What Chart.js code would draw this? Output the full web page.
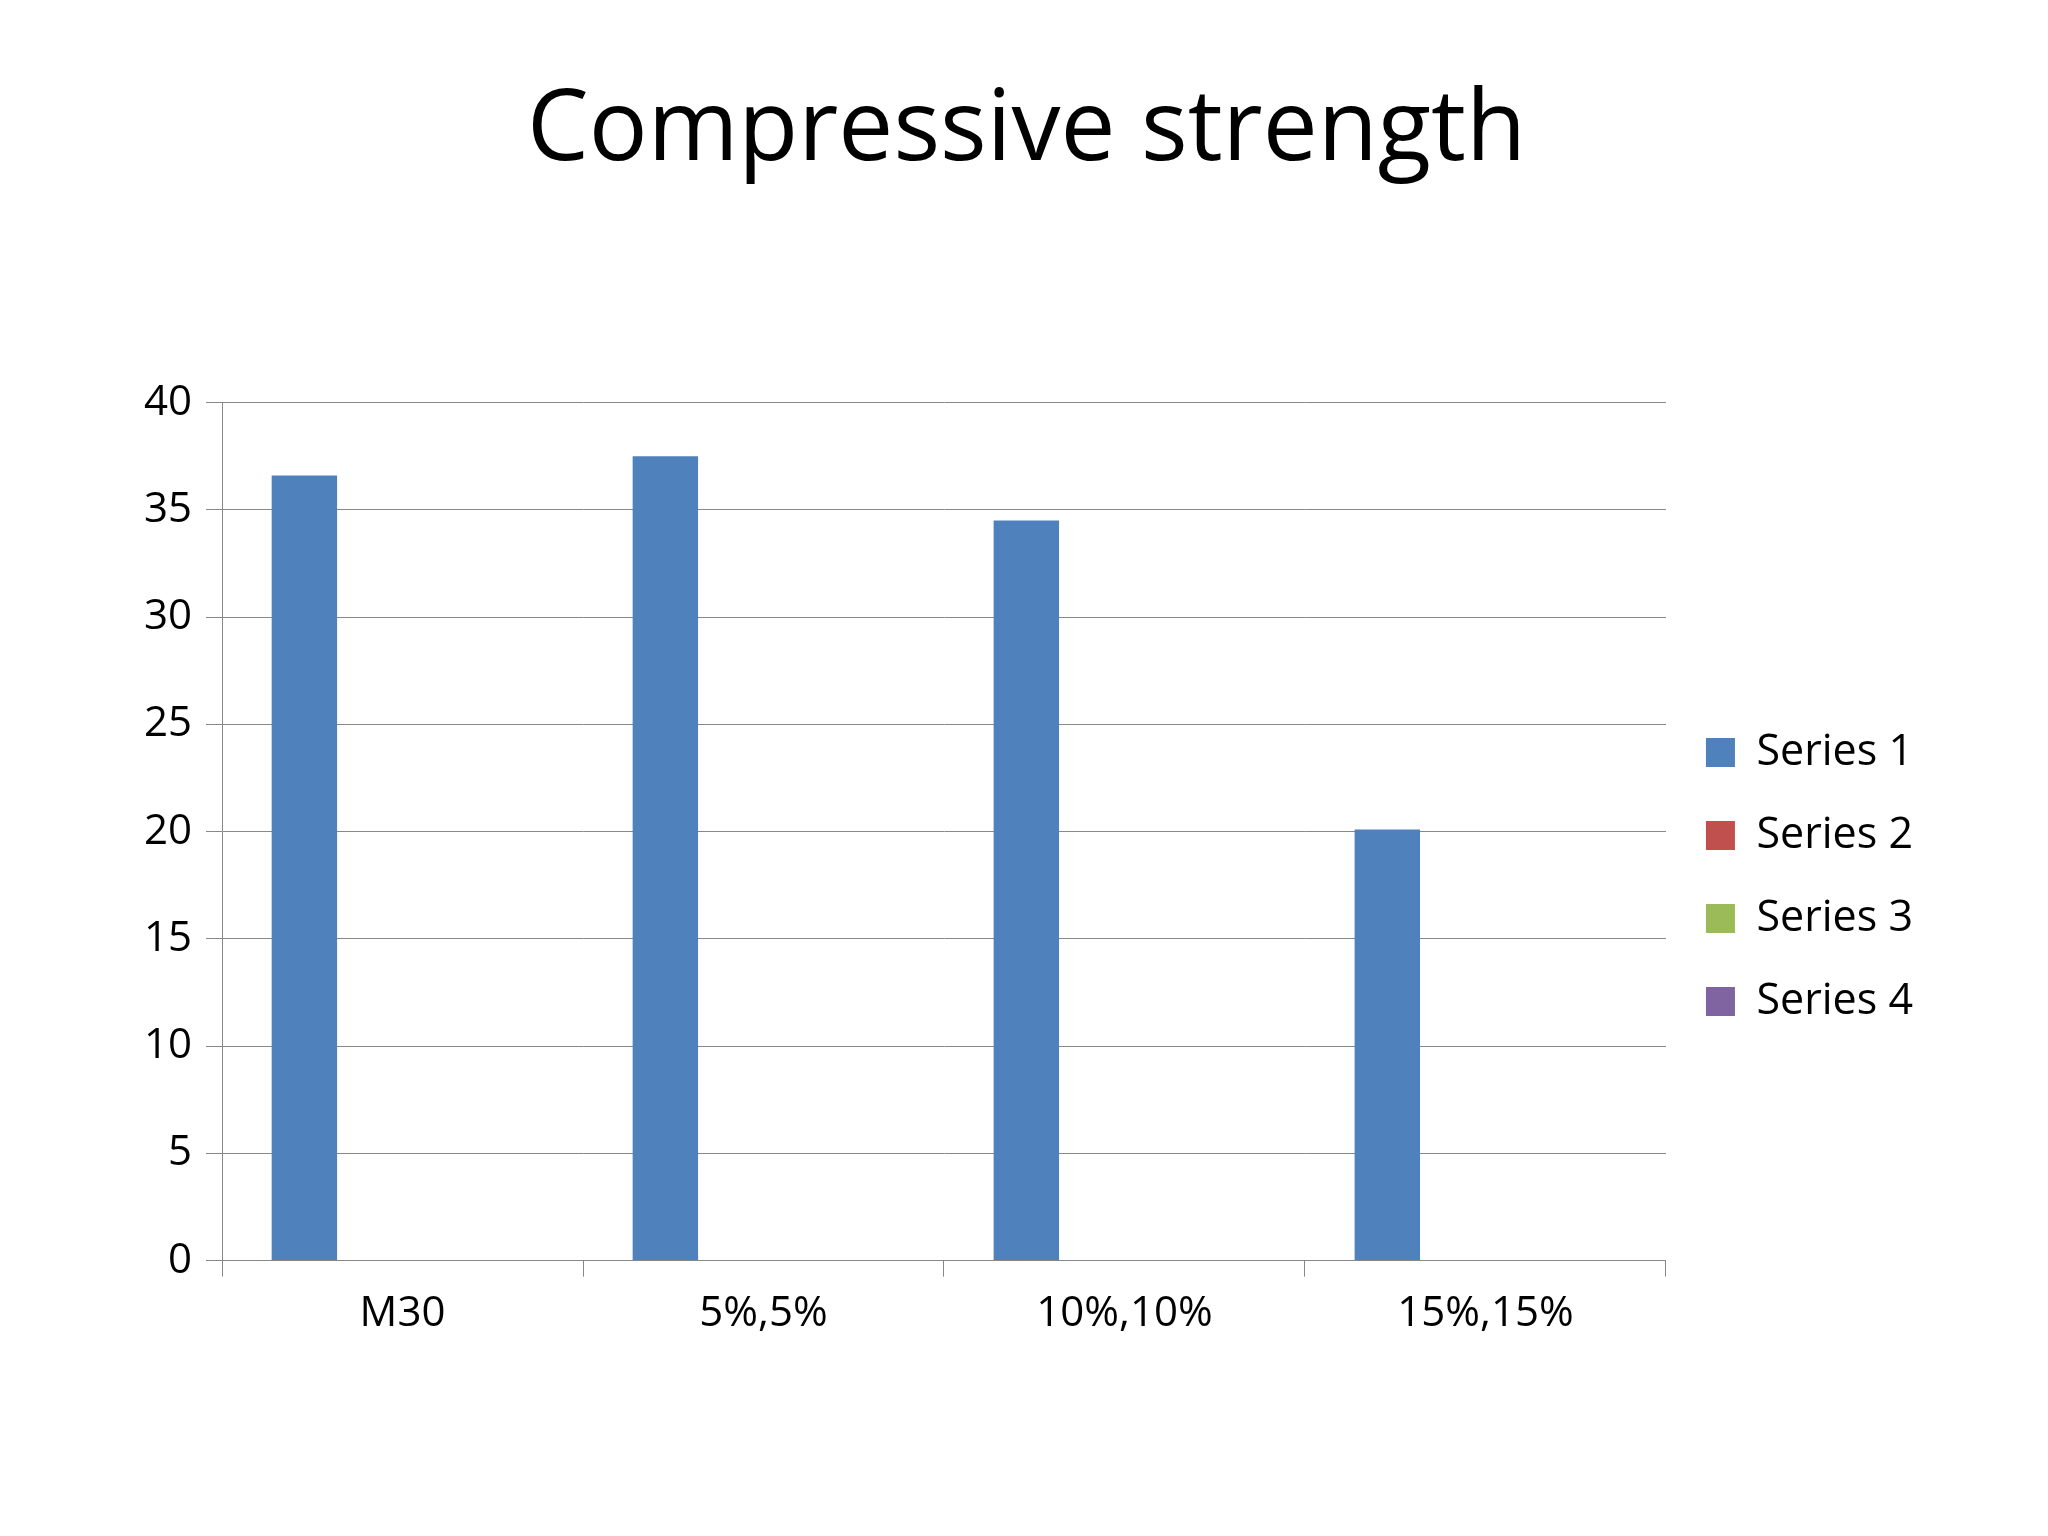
<!DOCTYPE html>
<html><head><meta charset="utf-8">
<script src="https://cdn.jsdelivr.net/npm/chart.js@4"></script>
<style>body{margin:0;background:#fff}#wrap{width:2048px;height:1536px}</style>
</head><body><div id="wrap"><canvas id="c"></canvas></div>
<script>
var categories = ['M30', '5%,5%', '10%,10%', '15%,15%'];
var series1 = [36.6, 37.5, 34.5, 20.1];
var series2 = [0, 0, 0, 0];
var series3 = [0, 0, 0, 0];
var series4 = [0, 0, 0, 0];
var seriesNames = ['Series 1', 'Series 2', 'Series 3', 'Series 4'];
var colors = ['#4f81bd', '#c0504d', '#9bbb59', '#8064a2'];

var font = "'Open Sans', 'Liberation Sans', sans-serif";
var all = [series1, series2, series3, series4];
var datasets = [];
for (var i = 0; i < all.length; i++) {
  datasets.push({label: seriesNames[i], data: all[i], backgroundColor: colors[i],
    categoryPercentage: 0.725, barPercentage: 1});
}

new Chart(document.getElementById('c'), {
  type: 'bar',
  data: {labels: categories, datasets: datasets},
  options: {
    responsive: true, maintainAspectRatio: false, animation: false,
    layout: {padding: {top: 73, bottom: 185, left: 130, right: 125}},
    plugins: {
      title: {display: true, text: 'Compressive strength', color: '#000',
        font: {family: font, size: 98, weight: 'normal'}, padding: {top: 0, bottom: 212}},
      legend: {position: 'right',
        title: {display: true, text: '', font: {size: 10}, padding: {top: 318, bottom: 0}},
        labels: {boxWidth: 29, boxHeight: 29, padding: 40, color: '#000',
          font: {family: font, size: 43}}},
      tooltip: {enabled: false}
    },
    scales: {
      x: {grid: {display: true, drawOnChartArea: false, color: '#888', tickLength: 16},
        border: {color: '#888'},
        ticks: {color: '#000', font: {family: font, size: 42}, padding: 12}},
      y: {min: 0, max: 40, ticks: {stepSize: 5, color: '#000', font: {family: font, size: 42}, padding: 14},
        grid: {color: '#888', tickLength: 16}, border: {color: '#888'}}
    }
  }
});
</script></body></html>
